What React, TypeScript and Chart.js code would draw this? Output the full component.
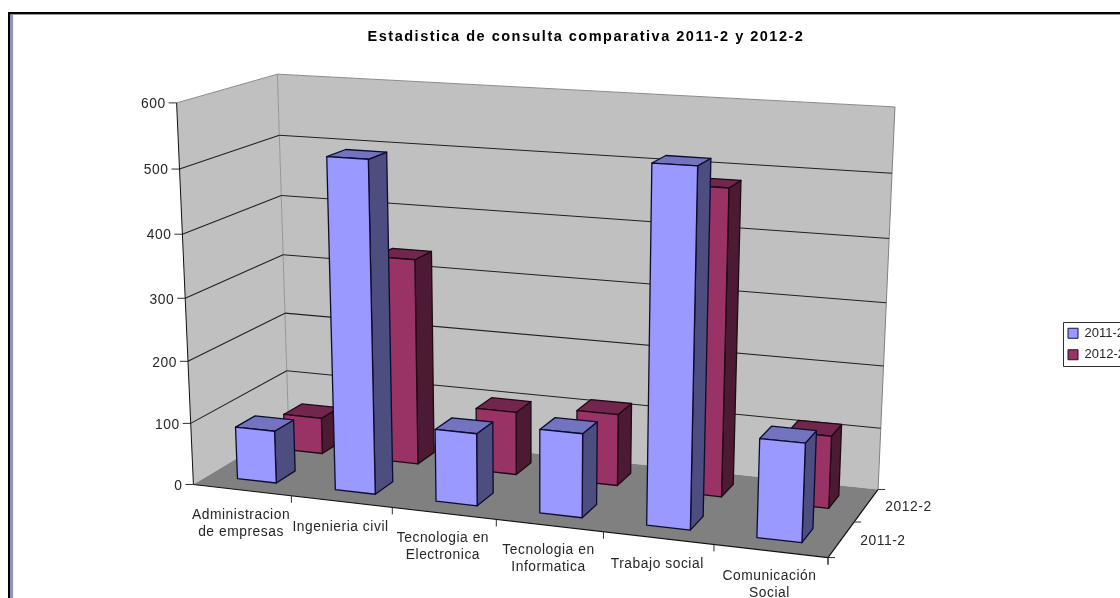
import React, { useEffect, useRef } from "react";
import { Chart, registerables } from "chart.js";

Chart.register(...registerables);

const categories: (string | string[])[] = [
  ["Administracion", "de empresas"],
  "Ingenieria civil",
  ["Tecnologia en", "Electronica"],
  ["Tecnologia en", "Informatica"],
  "Trabajo social",
  ["Comunicación", "Social"],
];
const values2011 = [85, 524, 115, 132, 545, 152];
const values2012 = [60, 337, 103, 116, 484, 115];
const seriesNames = ["2011-2", "2012-2"];
const yTicks = { min: 0, max: 600, stepSize: 100 };
const titleText = "Estadistica de consulta comparativa 2011-2 y 2012-2";

const FACE = [
  { front: "#9999FF", side: "#4D4D80", top: "#7373BF" },
  { front: "#993366", side: "#4D1A33", top: "#73264D" },
];
const FAMILY = '"Liberation Sans", Arial, sans-serif';
const FONT = `13.8px ${FAMILY}`;
const TEXT = "#262626";

// Camera fit: cube corner (X along categories, Y along value, Z into depth) -> screen position
const CUBE: [number, number, number, number, number][] = [
  [0, 0, 0, 193, 484],
  [1, 0, 0, 828, 558],
  [0, 0, 1, 289, 428],
  [1, 0, 1, 878, 489],
  [0, 1, 0, 177, 103],
  [0, 1, 1, 277, 74],
  [1, 1, 1, 895, 107],
];

function solve(A: number[][], b: number[]): number[] {
  const n = b.length;
  const m = A.map((r, i) => [...r, b[i]]);
  for (let i = 0; i < n; i++) {
    let p = i;
    for (let r = i + 1; r < n; r++) if (Math.abs(m[r][i]) > Math.abs(m[p][i])) p = r;
    [m[i], m[p]] = [m[p], m[i]];
    for (let r = 0; r < n; r++) {
      if (r === i) continue;
      const f = m[r][i] / m[i][i];
      for (let c = i; c <= n; c++) m[r][c] -= f * m[i][c];
    }
  }
  return m.map((r, i) => r[n] / r[i]);
}

function fitCamera(): number[] {
  const rows: number[][] = [];
  const rhs: number[] = [];
  for (const [X, Y, Z, x, y] of CUBE) {
    rows.push([X, Y, Z, 1, 0, 0, 0, 0, -x * X, -x * Y, -x * Z]);
    rhs.push(x);
    rows.push([0, 0, 0, 0, X, Y, Z, 1, -y * X, -y * Y, -y * Z]);
    rhs.push(y);
  }
  const n = 11;
  const ATA = Array.from({ length: n }, (_, i) =>
    Array.from({ length: n }, (_, j) => rows.reduce((s, r) => s + r[i] * r[j], 0))
  );
  const ATb = Array.from({ length: n }, (_, i) => rows.reduce((s, r, k) => s + r[i] * rhs[k], 0));
  return solve(ATA, ATb);
}
const CAM = fitCamera();
function P(X: number, Y: number, Z: number): [number, number] {
  const w = CAM[8] * X + CAM[9] * Y + CAM[10] * Z + 1;
  return [
    (CAM[0] * X + CAM[1] * Y + CAM[2] * Z + CAM[3]) / w,
    (CAM[4] * X + CAM[5] * Y + CAM[6] * Z + CAM[7]) / w,
  ];
}

function poly(ctx: CanvasRenderingContext2D, pts: [number, number][], fill: string | null, stroke: string | null, lw = 1) {
  ctx.beginPath();
  pts.forEach((p, i) => (i ? ctx.lineTo(p[0], p[1]) : ctx.moveTo(p[0], p[1])));
  ctx.closePath();
  if (fill) {
    ctx.fillStyle = fill;
    ctx.fill();
  }
  if (stroke) {
    ctx.strokeStyle = stroke;
    ctx.lineWidth = lw;
    ctx.lineJoin = "round";
    ctx.stroke();
  }
}
function line(ctx: CanvasRenderingContext2D, a: [number, number], b: [number, number], color: string, lw = 1) {
  ctx.beginPath();
  ctx.moveTo(a[0], a[1]);
  ctx.lineTo(b[0], b[1]);
  ctx.strokeStyle = color;
  ctx.lineWidth = lw;
  ctx.stroke();
}

const BAR_FRACTION = 0.4; // gap width 150%
const rows = seriesNames.length;

const scene = {
  id: "scene3d",
  beforeDraw(chart: any) {
    const ctx = chart.ctx;
    ctx.save();
    ctx.fillStyle = "#FFFFFF";
    ctx.fillRect(0, 0, chart.width, chart.height);
    ctx.fillStyle = "#000000";
    ctx.fillRect(8, 12, chart.width, 2.4);
    ctx.fillRect(8, 12, 2.4, chart.height);
    ctx.fillStyle = "#8E97B5";
    ctx.fillRect(10.4, 14.4, 2.7, chart.height);
    ctx.restore();
    const block = chart.titleBlock;
    if (block && !block.__spaced) {
      const orig = block.draw.bind(block);
      block.draw = () => {
        ctx.save();
        ctx.letterSpacing = "1.5px";
        orig();
        ctx.restore();
      };
      block.__spaced = true;
    }
  },
  beforeDatasetDraw() {
    return false;
  },
  afterDraw(chart: any) {
    const ctx = chart.ctx as CanvasRenderingContext2D;
    const xs = chart.scales.x;
    const ys = chart.scales.y;
    const dec = (v: number) => ys.getDecimalForPixel(ys.getPixelForValue(v));
    ctx.save();
    (ctx as any).letterSpacing = "0.55px";

    // walls
    poly(ctx, [P(0, 0, 0), P(0, 1, 0), P(0, 1, 1), P(0, 0, 1)], "#C0C0C0", null);
    poly(ctx, [P(0, 0, 1), P(0, 1, 1), P(1, 1, 1), P(1, 0, 1)], "#C0C0C0", null);
    poly(ctx, [P(0, 0, 0), P(1, 0, 0), P(1, 0, 1), P(0, 0, 1)], "#808080", null);
    line(ctx, P(0, 1, 0), P(0, 1, 1), "#8C8C8C");
    line(ctx, P(0, 1, 1), P(1, 1, 1), "#8C8C8C");
    line(ctx, P(0, 1, 1), P(0, 0, 1), "#969696");
    line(ctx, P(1, 1, 1), P(1, 0, 1), "#808080");

    // gridlines + value axis
    ctx.font = FONT;
    ctx.fillStyle = TEXT;
    ctx.textBaseline = "middle";
    ctx.textAlign = "right";
    ys.ticks.forEach((t: any) => {
      const d = dec(t.value);
      if (t.value > 0 && t.value < yTicks.max) {
        line(ctx, P(0, d, 0), P(0, d, 1), "#202020", 1.1);
        line(ctx, P(0, d, 1), P(1, d, 1), "#202020", 1.1);
      }
      const a = P(0, d, 0);
      line(ctx, [a[0] - 8, a[1]], a, "#303030");
      ctx.fillStyle = TEXT;
      ctx.fillText(String(t.value), a[0] - 11, a[1] + 1.5);
    });
    line(ctx, P(0, 1, 0), P(0, 0, 0), "#101010");

    // floor edges
    line(ctx, P(0, 0, 0), P(1, 0, 0), "#101010", 1.2);
    line(ctx, P(1, 0, 0), P(1, 0, 1), "#101010", 1.2);

    // category ticks and labels
    ctx.textAlign = "center";
    xs.getLabels().forEach((label: any, i: number) => {
      const left = i / xs.getLabels().length;
      const right = (i + 1) / xs.getLabels().length;
      const a = P(right, 0, 0);
      line(ctx, a, [a[0], a[1] + 7], "#303030");
      const mid = P((left + right) / 2, 0, 0);
      const lines = Array.isArray(label) ? label : [label];
      lines.forEach((s: string, k: number) => {
        ctx.fillStyle = TEXT;
        ctx.fillText(s, mid[0] - 1, mid[1] + (lines.length === 1 ? 26 : 25) + k * 17);
      });
    });
    const f0 = P(1, 0, 0);
    line(ctx, f0, [f0[0] + 7, f0[1]], "#303030");
    line(ctx, f0, [f0[0], f0[1] + 7], "#303030");
    seriesNames.forEach((name, r) => {
      const tick = P(1, 0, (r + 1) / rows);
      line(ctx, tick, [tick[0] + 7, tick[1]], "#303030");
      const c = P(1, 0, (r + 0.5) / rows);
      ctx.fillStyle = TEXT;
      ctx.textAlign = "left";
      ctx.fillText(name, c[0] + 19, c[1] + 2);
    });

    // bars, back row first
    for (let r = rows - 1; r >= 0; r--) {
      const data = chart.data.datasets[r].data as number[];
      const z0 = (r + (1 - BAR_FRACTION) / 2) / rows;
      const z1 = (r + (1 + BAR_FRACTION) / 2) / rows;
      data.forEach((v, i) => {
        const n = data.length;
        const cx = (i + 0.5) / n;
        const x0 = cx - BAR_FRACTION / 2 / n;
        const x1 = cx + BAR_FRACTION / 2 / n;
        const h = dec(v);
        const F = FACE[r];
        const ed = r === 0 ? "#0C0C30" : "#1E0A14";
        poly(ctx, [P(x1, 0, z0), P(x1, h, z0), P(x1, h, z1), P(x1, 0, z1)], F.side, ed, 1.3);
        poly(ctx, [P(x0, h, z0), P(x0, h, z1), P(x1, h, z1), P(x1, h, z0)], F.top, ed, 1.3);
        poly(ctx, [P(x0, 0, z0), P(x0, h, z0), P(x1, h, z0), P(x1, 0, z0)], F.front, ed, 1.3);
      });
    }

    // legend frame
    const hb = chart.legend.legendHitBoxes;
    const c0 = hb[0].top + hb[0].height / 2;
    const c1 = hb[hb.length - 1].top + hb[hb.length - 1].height / 2;
    const L = Math.round(hb[0].left - 5) + 0.5;
    const T = Math.round(c0 - 11) + 0.5;
    const B = Math.round(c1 + 11) + 0.5;
    ctx.strokeStyle = "#303030";
    ctx.lineWidth = 1;
    ctx.strokeRect(L, T, chart.width - L + 5, B - T);
    ctx.restore();
  },
};

export default function App() {
  const ref = useRef<HTMLCanvasElement>(null);
  useEffect(() => {
    const chart = new Chart(ref.current!, {
      type: "bar",
      data: {
        labels: categories as any,
        datasets: [
          { label: seriesNames[0], data: values2011, backgroundColor: FACE[0].front, borderColor: "#14143A", borderWidth: 1 },
          { label: seriesNames[1], data: values2012, backgroundColor: FACE[1].front, borderColor: "#2A0D1C", borderWidth: 1 },
        ],
      },
      plugins: [scene as any],
      options: {
        responsive: false,
        animation: false,
        layout: { padding: { left: 37, right: 37, top: 28, bottom: 0 } },
        scales: {
          x: { display: false },
          y: { display: false, min: yTicks.min, max: yTicks.max, ticks: { stepSize: yTicks.stepSize } },
        },
        plugins: {
          title: {
            display: true,
            text: titleText,
            color: "#000000",
            font: { family: FAMILY, size: 14.5, weight: "bold" },
            padding: { top: 0, bottom: 6 },
          },
          legend: {
            display: true,
            position: "right",
            labels: {
              boxWidth: 10,
              boxHeight: 10,
              padding: 8.5,
              color: TEXT,
              font: { family: FAMILY, size: 13 },
            },
          },
          tooltip: { enabled: false },
        },
      },
    });
    return () => chart.destroy();
  }, []);
  return (
    <div style={{ position: "fixed", left: 0, top: 0, width: 1120, height: 598, overflow: "hidden", background: "#fff" }}>
      <canvas ref={ref} width={1172} height={660} style={{ display: "block", width: 1172, height: 660 }} />
    </div>
  );
}
